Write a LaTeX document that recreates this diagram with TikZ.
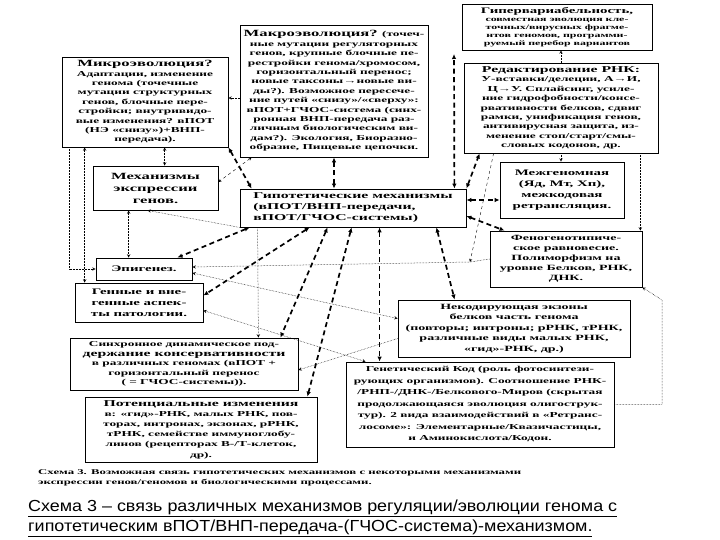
\documentclass[tikz,border=0pt]{standalone}
\usepackage{fontspec}
\setmainfont{Liberation Serif}
\newfontfamily\scanfont[FakeStretch=1.75]{Liberation Serif}
\newfontfamily\capfont[FakeStretch=1.12]{Liberation Sans}
\usetikzlibrary{arrows.meta, arrows}

\begin{document}
\begin{tikzpicture}[x=1pt, y=-1pt, >=stealth]
        % styles
        \tikzstyle{box} = [rectangle, draw=black, line width=0.8pt, inner sep=1pt, align=center, font=\scanfont\bfseries\fontsize{7.6}{9.4}\selectfont]
        \tikzstyle{heavy} = [line width=1.7pt, dash pattern=on 5pt off 3.5pt, {Latex[length=5pt,width=4.5pt]}-{Latex[length=5pt,width=4.5pt]}]
        \tikzstyle{fine} = [densely dotted, line width=0.5pt, ->]
        \tikzstyle{light} = [dashed, line width=0.4pt, ->]

        \useasboundingbox (0,0) rectangle (720,540);
        \fill[white] (0,0) rectangle (720,540);

        % boxes
        \node (micro) [box, minimum width=166pt, minimum height=90pt] at (145,102) {{\fontsize{9.5}{10.5}\selectfont Микроэволюция?}\\ Адаптации, изменение\\ генома (точечные\\ мутации структурных\\ генов, блочные пере-\\ стройки; внутривидо-\\ вые изменения? вПОТ\\ (НЭ «снизу»)+ВНП-\\ передача).};
        \node (macro) [box, minimum width=188pt, minimum height=132pt] at (334,91) {{\fontsize{9.5}{10.5}\selectfont Макроэволюция?} (точеч-\\ ные мутации регуляторных\\ генов, крупные блочные пе-\\ рестройки генома/хромосом,\\ горизонтальный перенос;\\ новые таксоны→новые ви-\\ ды?). Возможное пересече-\\ ние путей «снизу»/«сверху»:\\ вПОТ+ГЧОС-система (синх-\\ ронная ВНП-передача раз-\\ личным биологическим ви-\\ дам?). Экология, Биоразно-\\ образие, Пищевые цепочки.};
        \node (gyper) [box, minimum width=190pt, minimum height=46pt, font=\scanfont\bfseries\fontsize{6.8}{8}\selectfont] at (557,27) {{\fontsize{8.5}{9}\selectfont Гипервариабельность,}\\ совместная эволюция кле-\\ точных/вирусных фрагме-\\ нтов геномов, программи-\\ руемый перебор вариантов};
        \node (redakt) [box, minimum width=194pt, minimum height=90pt] at (561,108) {{\fontsize{9}{10}\selectfont Редактирование РНК:}\\ У-вставки/делеции, А→И,\\ Ц→У. Сплайсинг, усиле-\\ ние гидрофобности/консе-\\ рвативности белков, сдвиг\\ рамки, унификация генов,\\ антивирусная защита, из-\\ менение стоп/старт/смы-\\ словых кодонов, др.};
        \node (mech) [box, minimum width=125pt, minimum height=44pt, font=\scanfont\bfseries\fontsize{9.5}{12}\selectfont] at (155.5,188) {Механизмы\\ экспрессии\\ генов.};
        \node (hyp) [box, minimum width=226pt, minimum height=38pt, align=left, font=\scanfont\bfseries\fontsize{9}{11}\selectfont] at (353,208) {Гипотетические механизмы\\ (вПОТ/ВНП-передачи,\\ вПОТ/ГЧОС-системы)};
        \node (mezh) [box, minimum width=124pt, minimum height=56pt, font=\scanfont\bfseries\fontsize{8.5}{11}\selectfont] at (562,190) {Межгеномная\\ (Яд, Мт, Хп),\\ межкодовая\\ ретрансляция.};
        \node (feno) [box, minimum width=152pt, minimum height=56pt, font=\scanfont\bfseries\fontsize{8}{10}\selectfont] at (566,259) {Феногенотипиче-\\ ское равновесие.\\ Полиморфизм на\\ уровне Белков, РНК,\\ ДНК.};
        \node (epig) [box, minimum width=96pt, minimum height=22pt, font=\scanfont\bfseries\fontsize{8.5}{10}\selectfont] at (144,269) {Эпигенез.};
        \node (genes) [box, minimum width=128pt, minimum height=39pt, font=\scanfont\bfseries\fontsize{8.5}{11}\selectfont] at (139,302.5) {Генные и вне-\\ генные аспек-\\ ты патологии.};
        \node (noncod) [box, minimum width=232pt, minimum height=57pt, font=\scanfont\bfseries\fontsize{8}{10.5}\selectfont] at (514,328.5) {Некодирующая экзоны\\ белков часть генома\\ (повторы; интроны; рРНК, тРНК,\\ различные виды малых РНК,\\ «гид»-РНК, др.)};
        \node (sync) [box, minimum width=228pt, minimum height=52pt] at (184,364) {Синхронное динамическое под-\\ {\fontsize{9}{10}\selectfont держание консервативности}\\ в различных геномах (вПОТ +\\ горизонтальный перенос\\ ( = ГЧОС-системы)).};
        \node (gen) [box, minimum width=268pt, minimum height=85pt, font=\scanfont\bfseries\fontsize{7.6}{11.5}\selectfont] at (480,404.5) {Генетический Код (роль фотосинтези-\\ рующих организмов). Соотношение РНК-\\ /РНП-/ДНК-/Белкового-Миров (скрытая\\ продолжающаяся эволюция олигострук-\\ тур). 2 вида взаимодействий в «Ретранс-\\ лосоме»: Элементарные/Квазичастицы,\\ и Аминокислота/Кодон.};
        \node (pot) [box, minimum width=232pt, minimum height=65pt, font=\scanfont\bfseries\fontsize{7.6}{10.2}\selectfont] at (201,429.5) {{\fontsize{9}{11}\selectfont Потенциальные изменения}\\ в: «гид»-РНК, малых РНК, пов-\\ торах, интронах, экзонах, рРНК,\\ тРНК, семействе иммуноглобу-\\ линов (рецепторах В-/Т-клеток,\\ др).};

        % captions
        \node (note) [anchor=west, align=left, inner sep=0pt, font=\scanfont\bfseries\fontsize{7.3}{9.8}\selectfont] at (38,478) {Схема 3. Возможная связь гипотетических механизмов с некоторыми механизмами\\ экспрессии генов/геномов и биологическими процессами.};
        \node (title) [anchor=west, align=left, inner sep=0pt, font=\capfont\fontsize{16}{20}\selectfont] at (28,518) {\underline{Схема 3 – связь различных механизмов регуляции/эволюции генома с}\\ \underline{гипотетическим вПОТ/ВНП-передача-(ГЧОС-система)-механизмом.}};

        % helper points
        \coordinate (gyperfoot) at (454,54);
        \coordinate (fenojoin) at (470,262);
        \coordinate (rightbend) at (662,300);

        % heavy connectors
        \draw [heavy] (micro.south east) -- ([xshift=12pt]hyp.north west);
        \draw [heavy] (macro.south) -- (macro.south |- hyp.north);
        \draw [heavy] ([xshift=-12pt]hyp.north east) -- (gyperfoot);
        \draw [heavy] ([yshift=8pt]hyp.east) -- ([yshift=-10pt]mezh.west);
        \draw [heavy] ([yshift=-8pt]hyp.east) -- ([xshift=15pt]feno.north west);
        \draw [heavy] (hyp.north east) -- ([xshift=16pt]redakt.south west);
        \draw [heavy] ([xshift=10pt]hyp.south west) -- ([xshift=-15pt]epig.north east);
        \draw [heavy] ([xshift=70pt]hyp.south west) -- ([yshift=7pt]genes.east);
        \draw [heavy] ([xshift=88pt]hyp.south west) -- ([xshift=-18pt]sync.north east);
        \draw [heavy] ([xshift=112pt]hyp.south west) -- ([xshift=-10pt]pot.north east);
        \draw [heavy] ([xshift=140pt]hyp.south west) -- ([xshift=34pt]gen.north west);
        \draw [heavy] ([xshift=-30pt]hyp.south east) -- ([xshift=57pt]noncod.north west);

        % fine connectors
        \draw [fine, <->] ([xshift=103pt]micro.south west) -- ([xshift=72pt]mech.north west);
        \draw [fine, <->] ([xshift=23pt]micro.south west) -- ([xshift=10pt]genes.north west);
        \draw [fine] ([xshift=8pt]micro.south west) |- (epig.west);
        \draw [fine, <->] ([xshift=36pt]mech.south west) -- ([xshift=33pt]epig.north west);
        \draw [fine] (hyp.south west) -- ([xshift=-8pt]mech.south);
        \draw [light, <->] ([xshift=12pt]macro.south west) -- ([yshift=6pt]mech.east);
        \draw [fine] ([yshift=-7pt]macro.west) -- ([yshift=4pt]micro.east);
        \draw [fine] (feno.west) -- (fenojoin) -- ([yshift=2pt]epig.east);
        \draw [light] ([xshift=30pt]redakt.south west) -- (fenojoin);
        \draw [fine, <->] ([yshift=10pt]noncod.west) -- ([yshift=-4pt]epig.east);
        \draw [fine, <->] ([xshift=20pt]gen.north west) -- ([yshift=-8pt]genes.east);
        \draw [fine] ([xshift=18pt]hyp.south west) -- ([xshift=-40pt]sync.north east);
        \draw [fine] ([yshift=-10pt]noncod.west) -- ([yshift=-6pt]sync.east);
        \draw [fine] (gen.east) -| (rightbend) -- (feno.south east);
        \draw [fine] ([xshift=-18pt]redakt.south east) -- ([xshift=-2pt]feno.north east);
        \draw [fine] (redakt.south) -- (redakt.south |- mezh.north);
        \draw [fine] (redakt.north) -- (redakt.north |- gyper.south);
\end{tikzpicture}
\end{document}
